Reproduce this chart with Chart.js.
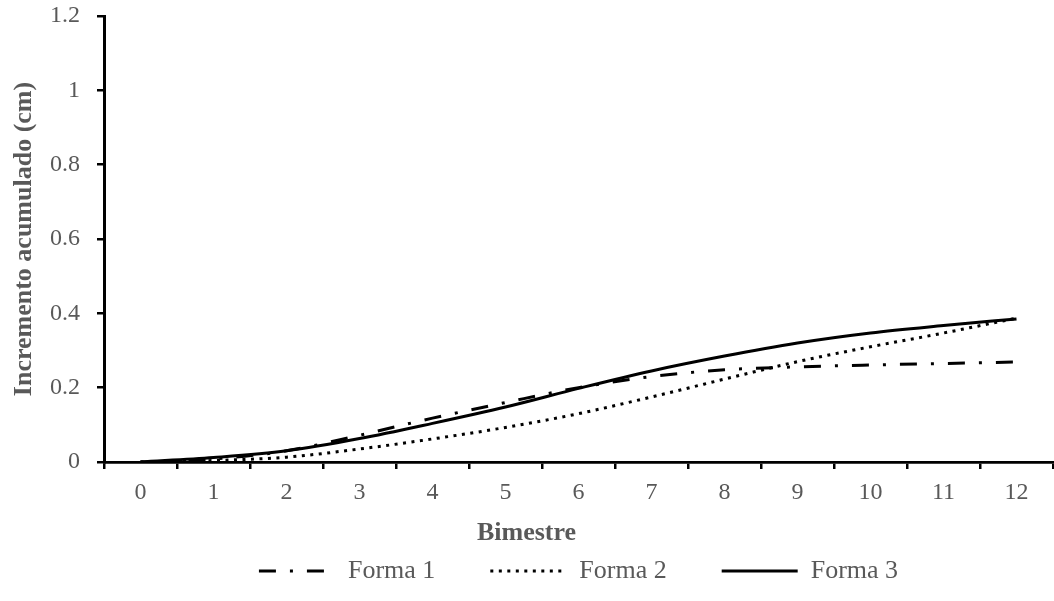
<!DOCTYPE html>
<html>
<head>
<meta charset="utf-8">
<script src="https://cdn.jsdelivr.net/npm/chart.js@4/dist/chart.umd.min.js"></script>
<style>
  html, body { margin: 0; padding: 0; background: #ffffff; }
  #wrap { width: 1054px; height: 601px; }
</style>
</head>
<body>
<div id="wrap"><canvas id="chart"></canvas></div>
<script>
// Bimestres (x categories)
const categories = ['0', '1', '2', '3', '4', '5', '6', '7', '8', '9', '10', '11', '12'];

// Incremento acumulado (cm) por forma
const forma1 = [0, 0.008, 0.03, 0.072, 0.118, 0.16, 0.2, 0.23, 0.248, 0.256, 0.261, 0.265, 0.269];
const forma2 = [0, 0.004, 0.013, 0.035, 0.062, 0.093, 0.13, 0.175, 0.223, 0.27, 0.31, 0.347, 0.387];
const forma3 = [0, 0.012, 0.03, 0.063, 0.104, 0.148, 0.198, 0.245, 0.285, 0.32, 0.347, 0.367, 0.385];

const seriesNames = ['Forma 1', 'Forma 2', 'Forma 3'];

// y axis range / step
const yMin = 0, yMax = 1.2, yStep = 0.2;

const GRAY = '#595959';
const SERIF = '"Liberation Serif", "Times New Roman", serif';

const lineBase = {
  borderColor: '#000000',
  backgroundColor: '#000000',
  borderWidth: 3,
  pointRadius: 0,
  pointHoverRadius: 0,
  fill: false,
  cubicInterpolationMode: 'monotone',
  borderCapStyle: 'butt'
};

// legend entries drawn as short line samples carrying each series' dash pattern
function legendLabels(chart) {
  const base = Chart.defaults.plugins.legend.labels.generateLabels(chart);
  return base.map((item) => {
    const ds = chart.data.datasets[item.datasetIndex];
    return Object.assign({}, item, {
      lineDash: ds.borderDash || [],
      lineWidth: ds.borderWidth,
      strokeStyle: ds.borderColor,
      lineCap: 'butt'
    });
  });
}

new Chart(document.getElementById('chart'), {
  type: 'line',
  data: {
    labels: categories,
    datasets: [
      Object.assign({}, lineBase, { label: seriesNames[0], data: forma1, borderDash: [17, 14, 3, 14] }),
      Object.assign({}, lineBase, { label: seriesNames[1], data: forma2, borderDash: [3, 5.5] }),
      Object.assign({}, lineBase, { label: seriesNames[2], data: forma3 })
    ]
  },
  options: {
    responsive: true,
    maintainAspectRatio: false,
    animation: false,
    events: [],
    layout: { padding: { left: 0, top: 16, right: 1, bottom: 7 } },
    scales: {
      x: {
        offset: true,
        afterFit: (scale) => { scale.height = 41; },
        grid: {
          offset: true,
          drawOnChartArea: false,
          drawTicks: true,
          tickLength: 7,
          color: '#000000',
          lineWidth: 2.5
        },
        border: { display: true, color: '#000000', width: 2.7 },
        ticks: {
          color: GRAY,
          padding: 9,
          maxRotation: 0,
          autoSkip: false,
          font: { family: SERIF, size: 24 }
        },
        title: { display: false }
      },
      y: {
        min: yMin,
        max: yMax,
        afterFit: (scale) => {
          scale.width = 104;
          scale.paddingTop = 0;
          scale.paddingBottom = 0;
        },
        grid: {
          drawOnChartArea: false,
          drawTicks: true,
          tickLength: 7,
          color: '#000000',
          lineWidth: 2.5
        },
        border: { display: true, color: '#000000', width: 3 },
        ticks: {
          stepSize: yStep,
          color: GRAY,
          padding: 17,
          font: { family: SERIF, size: 24 },
          callback: (v) => String(Math.round(v * 10) / 10)
        },
        title: {
          display: true,
          text: 'Incremento acumulado (cm)',
          color: GRAY,
          padding: { top: 8.4, bottom: 0 },
          font: { family: SERIF, size: 26, weight: 'bold' }
        }
      }
    },
    plugins: {
      tooltip: { enabled: false },
      title: {
        display: true,
        text: 'Bimestre',
        position: 'bottom',
        weight: 500,
        color: GRAY,
        padding: { top: 14.4, bottom: -45.6 },
        font: { family: SERIF, size: 26, weight: 'bold' }
      },
      legend: {
        display: true,
        position: 'bottom',
        fullSize: false,
        labels: {
          usePointStyle: true,
          pointStyle: 'line',
          pointStyleWidth: 76,
          padding: 55,
          color: GRAY,
          font: { family: SERIF, size: 26 },
          generateLabels: legendLabels
        }
      }
    }
  }
});
</script>
</body>
</html>
